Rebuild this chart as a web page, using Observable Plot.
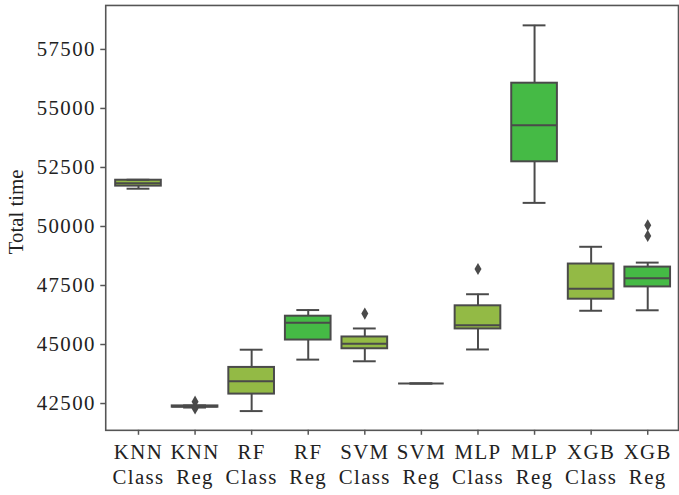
<!DOCTYPE html>
<html>
<head>
<meta charset="utf-8">
<script src="https://cdn.jsdelivr.net/npm/d3@7"></script>
<script src="https://cdn.jsdelivr.net/npm/@observablehq/plot@0.6"></script>
<style>
  html, body { margin: 0; padding: 0; background: #fff; overflow: hidden; }
  svg g[aria-label$="tick label"] text { letter-spacing: 1.4px; }
</style>
</head>
<body>
<div id="chart"></div>
<script>
const categories = ["KNN Class","KNN Reg","RF Class","RF Reg","SVM Class","SVM Reg","MLP Class","MLP Reg","XGB Class","XGB Reg"];
const lowWhisker  = [51600, 42330, 42180, 44360, 44290, 43350, 44790, 51000, 46430, 46450];
const q1          = [51710, 42345, 42900, 45190, 44820, 43350, 45660, 52740, 46920, 47440];
const median      = [51830, 42370, 43440, 45920, 45030, 43350, 45820, 54290, 47360, 47810];
const q3          = [51960, 42400, 44030, 46200, 45320, 43350, 46640, 56070, 48410, 48280];
const highWhisker = [51980, 42420, 44780, 46460, 45680, 43350, 47130, 58520, 49140, 48470];
const outlierCats   = ["KNN Reg","KNN Reg","SVM Class","MLP Class","XGB Reg","XGB Reg"];
const outlierValues = [42580, 42290, 46310, 48200, 50050, 49600];
const yTicks = [42500, 45000, 47500, 50000, 52500, 55000, 57500];
const yLabel = "Total time";

const rows = categories.map((c, i) => ({
  cat: c, type: c.includes("Class") ? "Class" : "Reg",
  lo: lowWhisker[i], q1: q1[i], med: median[i], q3: q3[i], hi: highWhisker[i]
}));
const outliers = outlierCats.map((c, i) => ({cat: c, value: outlierValues[i]}));

const edge = "#4a4a4a";
const sw = 2;

const chart = Plot.plot({
  width: 684,
  height: 495,
  marginLeft: 106,
  marginRight: 1,
  marginTop: 5,
  marginBottom: 62,
  style: {fontFamily: "'Liberation Serif', 'Times New Roman', serif", fontSize: "21px", color: "#222", background: "#fff"},
  x: {domain: categories, range: [107, 683], paddingInner: 0.2, paddingOuter: 0.1, axis: null},
  y: {domain: [41365, 59363], axis: null},
  color: {domain: ["Class", "Reg"], range: ["#93ba45", "#45ba45"]},
  marks: [
    Plot.frame({stroke: "#555", strokeWidth: 1.6}),
    Plot.axisY({ticks: yTicks, tickSize: 5, tickPadding: 5, tickFormat: d => String(d), label: null, stroke: "#555", strokeWidth: 1.5, fill: "#222"}),
    Plot.axisX({tickSize: 5, tickPadding: 6, tickFormat: d => d.replace(" ", "\n"), label: null, lineHeight: 1.2, stroke: "#555", strokeWidth: 1.5, fill: "#222"}),
    Plot.text([yLabel], {frameAnchor: "left", textAnchor: "middle", rotate: -90, lineAnchor: "bottom", dx: -83, dy: -6, fill: "#222", fontSize: 21}),
    Plot.ruleX(rows, {x: "cat", y1: "lo", y2: "hi", stroke: edge, strokeWidth: sw}),
    Plot.barY(rows, {x: "cat", y1: "q1", y2: "q3", fill: "type", stroke: edge, strokeWidth: sw}),
    Plot.tickY(rows, {x: "cat", y: "med", stroke: edge, strokeWidth: sw}),
    Plot.tickY(rows, {x: "cat", y: "lo", stroke: edge, strokeWidth: sw, insetLeft: 11.5, insetRight: 11.5}),
    Plot.tickY(rows, {x: "cat", y: "hi", stroke: edge, strokeWidth: sw, insetLeft: 11.5, insetRight: 11.5}),
    Plot.dot(outliers, {x: "cat", y: "value", symbol: "diamond", r: 3.7, fill: edge, stroke: "none"})
  ]
});
document.getElementById("chart").appendChild(chart);
</script>
</body>
</html>
